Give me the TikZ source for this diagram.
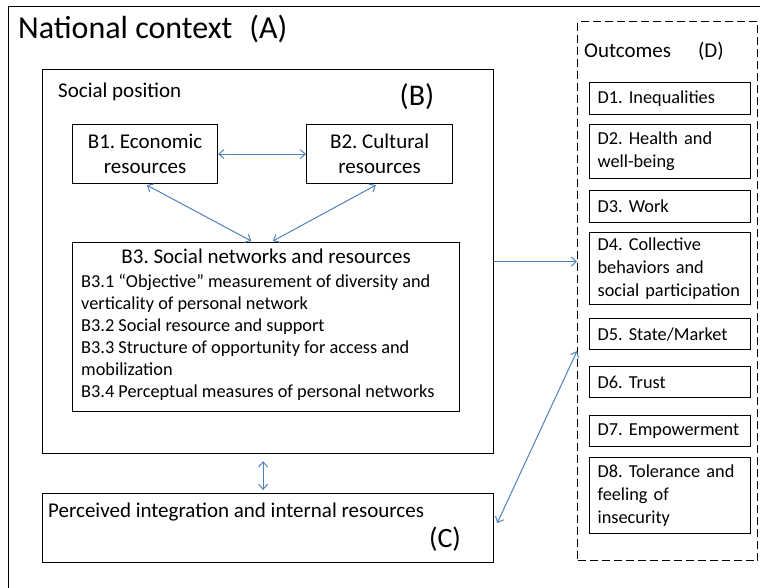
\documentclass[tikz,border=0pt]{standalone}
\usepackage{fontspec}
\setmainfont{Carlito}
\usepackage{tikz}
\usetikzlibrary{positioning, arrows.meta}
\definecolor{arrowblue}{HTML}{4F81BD}
\frenchspacing

\begin{document}
\begin{tikzpicture}[x=1pt, y=-1pt, inner sep=0pt,
        >={Straight Barb[length=5pt, width=9pt]},
        box/.style={draw, line width=1.2pt, inner sep=0pt, anchor=north west},
        mid/.style={font=\fontsize{21}{25}\selectfont},
        small/.style={font=\fontsize{18.3}{23}\selectfont},
        dbox/.style={box, small, text width=145pt, inner xsep=8pt, align=left},
        link/.style={draw=arrowblue, line width=1pt}]

    \useasboundingbox (0,0) rectangle (760,588);
    \clip (0,0) rectangle (760,588);

    % national context frame (A)
    \node[box, minimum width=770pt, minimum height=600pt] (natctx) at (8,6) {};
    \node[anchor=base west, font=\fontsize{32}{36}\selectfont] (natlabel) at (18,39) {National context\hspace{17pt}(A)};

    % social position (B)
    \node[box, minimum width=451pt, minimum height=384pt] (social) at (42,69) {};
    \node[mid, anchor=base west] (soclabel) at (58,98) {Social position};
    \node[anchor=base, font=\fontsize{30}{34}\selectfont] (blabel) at (417,106) {(B)};

    \node[box, mid, minimum width=145pt, minimum height=59pt, align=center] (econ) at (72,124) {B1. Economic\\resources};
    \node[box, mid, minimum width=146pt, minimum height=59pt, align=center] (cult) at (306,124) {B2. Cultural\\resources};

    \node[box, minimum width=387pt, minimum height=169pt] (netw) at (72,242) {};
    \node[mid, anchor=base] (netwtitle) at ([yshift=-21pt]netw.north) {B3. Social networks and resources};
    \foreach \i/\t in {0/{B3.1 “Objective” measurement of diversity and},
                       1/{verticality of personal network},
                       2/{B3.2 Social resource and support},
                       3/{B3.3 Structure of opportunity for access and},
                       4/{mobilization},
                       5/{B3.4 Perceptual measures of personal networks}} {
        \node[small, anchor=base west] (netwline\i) at (81, 287+22*\i) {\t};
    };

    % perceived integration (C)
    \node[box, minimum width=451pt, minimum height=69pt] (integ) at (42,493) {};
    \node[mid, anchor=base west] (integlabel) at (48,517) {Perceived integration and internal resources};
    \node[anchor=base, font=\fontsize{28}{32}\selectfont] (clabel) at (445,547) {(C)};

    % outcomes (D)
    \node[box, dash pattern=on 8pt off 4pt, minimum width=180pt, minimum height=539pt] (outcomes) at (577,21) {};
    \node[mid, anchor=base west] (outlabel) at (584,58) {Outcomes\hspace{27pt}(D)};
    \foreach \n/\y/\h/\t in {d1/82/32/{D1. Inequalities},
                             d2/124/54/{D2. Health and\\well-being},
                             d3/190/32/{D3. Work},
                             d4/232/72/{D4. Collective\\behaviors and\\social participation},
                             d5/318/31/{D5. State/Market},
                             d6/366/31/{D6. Trust},
                             d7/415/31/{D7. Empowerment},
                             d8/457/76/{D8. Tolerance and\\feeling of\\insecurity}} {
        \node[dbox, minimum height=\h pt] (\n) at (589,\y) {\t};
    };

    % links between the blocks
    \draw[link, <->] (econ) -- (cult);
    \draw[link, <->, shorten <=2pt, shorten >=2pt] (econ.south) -- ([xshift=-13pt]netw.north);
    \draw[link, <->, shorten <=2pt, shorten >=2pt] ([xshift=-2pt]cult.south) -- ([xshift=5pt]netw.north);
    \draw[link, ->] (social.east) -- (social.east -| outcomes.west);
    \draw[link, <->, shorten <=7pt, shorten >=3pt] ([xshift=-5pt]social.south) -- ([xshift=-5pt]integ.north);
    \draw[link, <->] ([xshift=3pt, yshift=5pt]integ.east) -- ([yshift=-60pt]outcomes.west);
\end{tikzpicture}
\end{document}
